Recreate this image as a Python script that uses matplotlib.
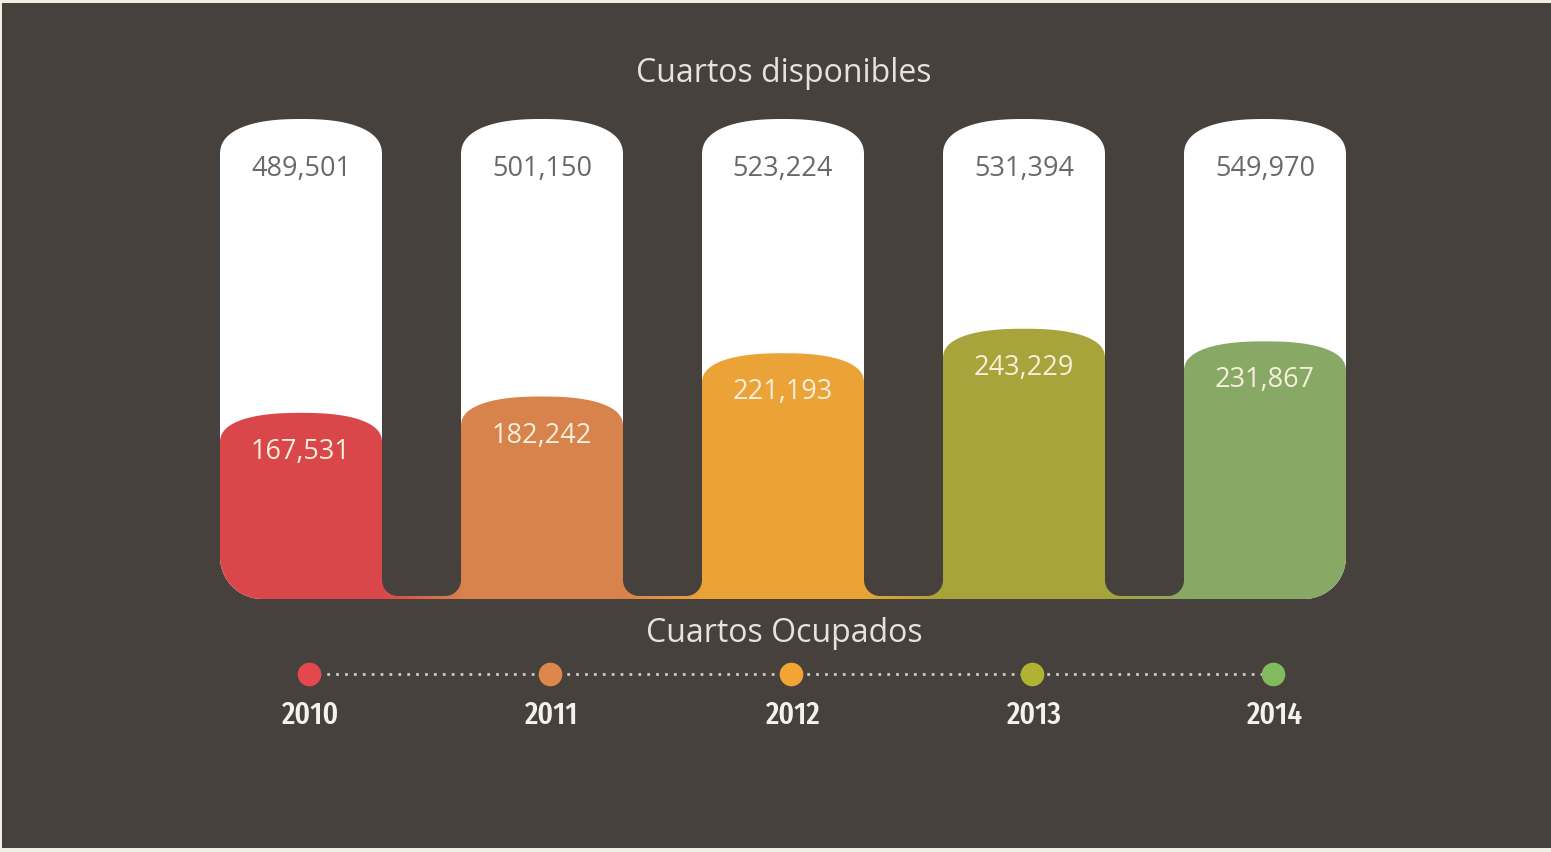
import matplotlib
matplotlib.use("Agg")
import matplotlib.pyplot as plt
import numpy as np
from matplotlib import font_manager
from matplotlib.colors import LinearSegmentedColormap
from matplotlib.patches import PathPatch, Rectangle
from matplotlib.path import Path

years = ["2010", "2011", "2012", "2013", "2014"]
disponibles = [489501, 501150, 523224, 531394, 549970]
ocupados = [167531, 182242, 221193, 243229, 231867]
fill_colors = ["#d9474a", "#d8824c", "#eba337", "#a6a43a", "#88a865"]
dot_colors = ["#e4484d", "#de874a", "#f2a532", "#b0b232", "#82bb5e"]

BG = "#47413e"
FRAME = "#f1ede1"
title_top = "Cuartos disponibles"
title_bottom = "Cuartos Ocupados"

# layout: one x unit per cylinder, y in rooms (~900 rooms per pixel)
PX_X = 241.0
PX_Y = 900.0
CYL_W = 162 / PX_X
CYL_TOP = 480 * PX_Y          # common height of the white cylinders
DOME_TOP = 36 * PX_Y
DOME_FILL = 30 * PX_Y


def xp(px):
    return (px - 301) / PX_X


def yp(py):
    return (600 - py) * PX_Y


def condensed_font():
    # the year labels use a very narrow face; pick the closest installed one
    best = None
    for f in font_manager.fontManager.ttflist:
        name = (f.name + " " + str(f.fname)).lower().replace("-", "").replace(" ", "")
        if "italic" in name or "oblique" in name:
            continue
        if "extracondensed" in name:
            width_rank = 0
        elif "semicondensed" in name:
            width_rank = 3
        elif "ultracondensed" in name:
            width_rank = 2
        elif "condensed" in name or "narrow" in name:
            width_rank = 1
        else:
            continue
        w = f.weight if isinstance(f.weight, int) else 700 if "bold" in str(f.weight) else 400
        score = width_rank * 1000 + abs(w - 500)
        if best is None or score < best[0]:
            best = (score, f.fname)
    if best:
        return font_manager.FontProperties(fname=best[1], size=23)
    return font_manager.FontProperties(family="DejaVu Sans", weight="bold", size=19)


def shape(x0, x1, y1, dome, r_bl=0.0, r_br=0.0, y0=0.0):
    """Column outline: optional rounded bottom corners (px), squircle dome on top."""
    verts = []
    t = np.linspace(0, np.pi / 2, 20)
    if r_bl > 0:
        rx, ry = r_bl / PX_X, r_bl * PX_Y
        cx, cy = x0 + rx, y0 + ry
        verts += list(zip(cx - rx * np.cos(t), cy - ry * np.sin(t)))
    else:
        verts.append((x0, y0))
    if r_br > 0:
        rx, ry = r_br / PX_X, r_br * PX_Y
        cx, cy = x1 - rx, y0 + ry
        verts += list(zip(cx + rx * np.sin(t), cy - ry * np.cos(t)))
    else:
        verts.append((x1, y0))
    cx, half = (x0 + x1) / 2, (x1 - x0) / 2
    if dome > 0:
        a = np.linspace(0, np.pi, 80)
        e = 2 / 2.4
        c, s = np.cos(a), np.sin(a)
        verts += list(zip(cx + half * np.sign(c) * np.abs(c) ** e,
                          (y1 - dome) + dome * np.abs(s) ** e))
    else:
        verts += [(x1, y1), (x0, y1)]
    verts.append(verts[0])
    codes = [Path.MOVETO] + [Path.LINETO] * (len(verts) - 2) + [Path.CLOSEPOLY]
    return Path(verts, codes)


fig = plt.figure(figsize=(15.51, 8.52), dpi=100, facecolor=FRAME)
ax = fig.add_axes([2 / 1551, 4 / 852, 1549 / 1551, 845 / 852])
ax.axis("off")
ax.add_patch(Rectangle((0, 0), 1, 1, transform=ax.transAxes, color=BG, zorder=0))

n = len(years)
x = np.arange(n)

for i in range(n):
    x0, x1 = x[i] - CYL_W / 2, x[i] + CYL_W / 2
    r_bl = 42 if i == 0 else 0
    r_br = 42 if i == n - 1 else 0
    # white "available" cylinder
    ax.add_patch(PathPatch(shape(x0, x1, CYL_TOP, DOME_TOP, r_bl, r_br),
                           facecolor="white", edgecolor="none", zorder=1))
    # coloured "occupied" fill
    ax.add_patch(PathPatch(shape(x0, x1, ocupados[i], DOME_FILL, r_bl, r_br),
                           facecolor=fill_colors[i], edgecolor="none", zorder=2))
    ax.text(x[i], CYL_TOP - 50 * PX_Y, f"{disponibles[i]:,}", ha="center", va="center",
            fontsize=19.5, color="#6b6967", family="Open Sans", zorder=5)
    ax.text(x[i], ocupados[i] - 39 * PX_Y, f"{ocupados[i]:,}", ha="center", va="center",
            fontsize=19.5, color="#f7efdc", family="Open Sans", zorder=5)

# connecting band under the gaps, blending neighbour colours, then the dark gaps
for i in range(n - 1):
    gx0, gx1 = x[i] + CYL_W / 2, x[i + 1] - CYL_W / 2
    cmap = LinearSegmentedColormap.from_list("g", [fill_colors[i], fill_colors[i + 1]])
    ax.imshow(np.linspace(0, 1, 64)[None, :], cmap=cmap, aspect="auto",
              extent=(gx0 - 0.01, gx1 + 0.01, 0, 40 * PX_Y), zorder=2)
    ax.add_patch(PathPatch(shape(gx0, gx1, yp(100), 0, 16, 16, y0=yp(597)),
                           facecolor=BG, edgecolor="none", zorder=3))

ax.text(xp(784), yp(75), title_top, ha="center", va="center", fontsize=23,
        color="#e6e3dc", family="Open Sans", zorder=5)
ax.text(xp(784), yp(634), title_bottom, ha="center", va="center", fontsize=23,
        color="#e6e3dc", family="Open Sans", zorder=5)

# timeline
tx = x + 8 / PX_X
ty = yp(675)
ax.plot([tx[0], tx[-1]], [ty, ty], color="#cfcac0", lw=2, ls=(0, (1, 2.2)), zorder=4)
year_font = condensed_font()
for i in range(n):
    ax.plot(tx[i], ty, "o", ms=17, color=dot_colors[i], mec="none", zorder=5)
    ax.text(tx[i] + 2 / PX_X, yp(716), years[i], ha="center", va="center",
            fontproperties=year_font, color="#f4f2ee", zorder=5)

ax.set_xlim(xp(2), xp(1551))
ax.set_ylim(yp(849), yp(4))

fig.savefig("out.png", dpi=100, facecolor=FRAME)
